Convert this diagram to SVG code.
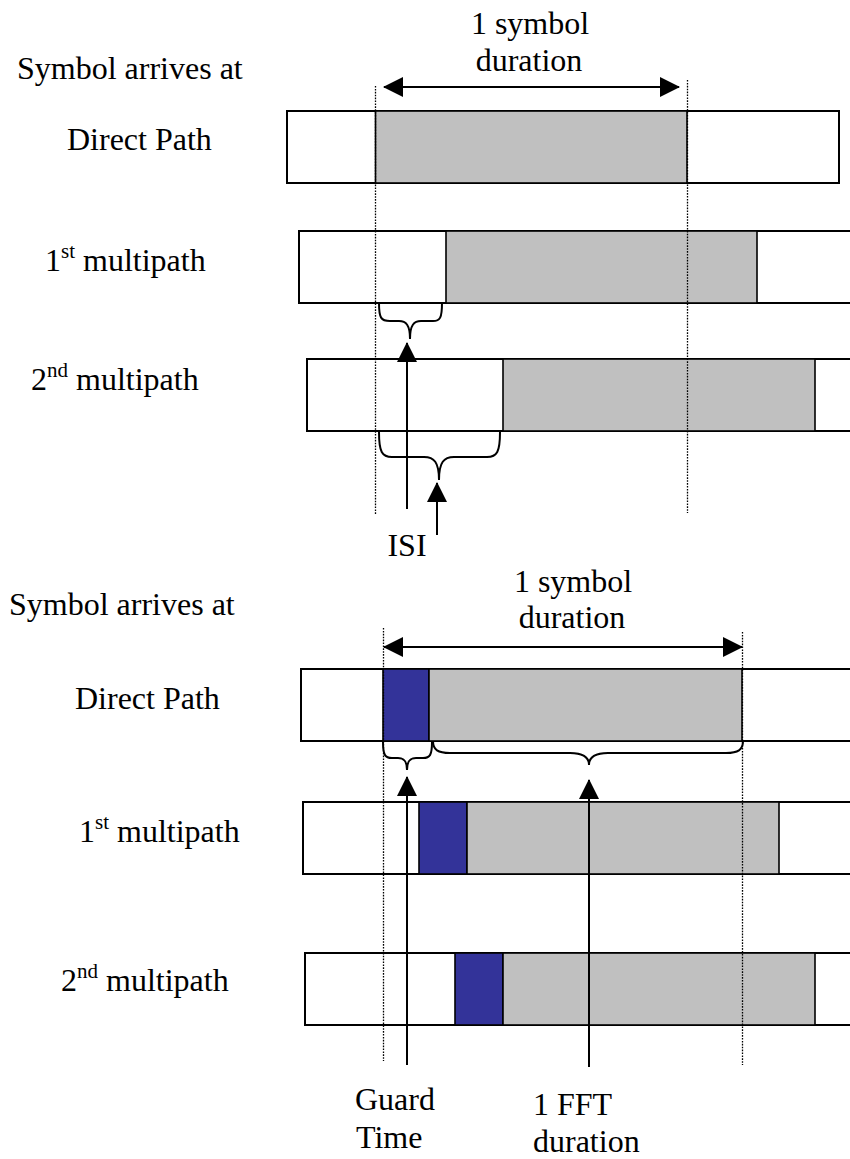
<svg xmlns="http://www.w3.org/2000/svg" width="850" height="1159" viewBox="0 0 850 1159">
  <style>
    text { font-family: "Liberation Serif", "Times New Roman", serif; font-size: 32px; fill: #000; }
    .sup { font-size: 21px; }
    .frame { fill: #fff; stroke: #000; stroke-width: 2; }
    .data { fill: #c0c0c0; stroke: #000; stroke-width: 1.6; }
    .guard { fill: #333399; stroke: #000; stroke-width: 1.6; }
    .dot { fill: none; stroke: #000; stroke-width: 1.3; stroke-dasharray: 1.6 1.3; }
    .line { fill: none; stroke: #000; stroke-width: 2; }
    .brace { fill: none; stroke: #000; stroke-width: 2; }
  </style>
  <defs>
    <marker id="head" viewBox="0 0 20 20" refX="19" refY="10" markerWidth="20" markerHeight="20" markerUnits="userSpaceOnUse" orient="auto-start-reverse">
      <path d="M0,0 L20,10 L0,20 z" fill="#000"/>
    </marker>
  </defs>

  <!-- ===== Upper panel: without guard interval ===== -->
  <g id="upper-labels">
    <text x="17" y="79">Symbol arrives at</text>
    <text x="530" y="34" text-anchor="middle">1 symbol</text>
    <text x="529" y="71" text-anchor="middle">duration</text>
    <text x="407" y="556" text-anchor="middle">ISI</text>
  </g>

  <g id="u-direct">
    <text x="67" y="150">Direct Path</text>
    <rect class="frame" x="287" y="111" width="552" height="72"/>
    <rect class="data" x="375.5" y="111" width="311.5" height="72"/>
  </g>

  <g id="u-multipath1">
    <text x="45" y="271">1<tspan class="sup" dy="-13">st</tspan><tspan dy="13"> multipath</tspan></text>
    <rect class="frame" x="299" y="231" width="560" height="72"/>
    <rect class="data" x="446" y="231" width="311" height="72"/>
  </g>

  <g id="u-multipath2">
    <text x="31" y="390">2<tspan class="sup" dy="-13">nd</tspan><tspan dy="13"> multipath</tspan></text>
    <rect class="frame" x="307" y="359" width="560" height="72"/>
    <rect class="data" x="503" y="359" width="312" height="72"/>
  </g>

  <g id="u-connectors">
    <line class="dot" x1="375.5" y1="86" x2="375.5" y2="515"/>
    <line class="dot" x1="687.5" y1="80" x2="687.5" y2="513"/>
    <line class="line" x1="384" y1="87" x2="679" y2="87" marker-start="url(#head)" marker-end="url(#head)"/>
    <path class="brace" d="M379,303 C379,318 381,321 390,321 L399,321 C406,321 410,325 410,339 C410,325 414,321 421,321 L433,321 C440,321 442,318 442,303"/>
    <path class="brace" d="M379,432 C379,452 382,457 392,457 L424,457 C434,457 439,462 439,480 C439,462 444,457 454,457 L487,457 C497,457 500,452 500,432"/>
    <line class="line" x1="407" y1="509" x2="407" y2="343" marker-end="url(#head)"/>
    <line class="line" x1="437" y1="535" x2="437" y2="483" marker-end="url(#head)"/>
  </g>

  <!-- ===== Lower panel: with guard interval ===== -->
  <g id="lower-labels">
    <text x="9" y="615">Symbol arrives at</text>
    <text x="573" y="592" text-anchor="middle">1 symbol</text>
    <text x="572" y="628" text-anchor="middle">duration</text>
    <text x="355" y="1110">Guard</text>
    <text x="356" y="1148">Time</text>
    <text x="533" y="1115">1 FFT</text>
    <text x="533" y="1152">duration</text>
  </g>

  <g id="l-direct">
    <text x="75" y="709">Direct Path</text>
    <rect class="frame" x="301" y="669" width="560" height="72"/>
    <rect class="guard" x="383" y="669" width="46" height="72"/>
    <rect class="data" x="429" y="669" width="313" height="72"/>
  </g>

  <g id="l-multipath1">
    <text x="79" y="842">1<tspan class="sup" dy="-13">st</tspan><tspan dy="13"> multipath</tspan></text>
    <rect class="frame" x="303" y="802" width="560" height="72"/>
    <rect class="guard" x="419" y="802" width="48" height="72"/>
    <rect class="data" x="467" y="802" width="312" height="72"/>
  </g>

  <g id="l-multipath2">
    <text x="61" y="991">2<tspan class="sup" dy="-13">nd</tspan><tspan dy="13"> multipath</tspan></text>
    <rect class="frame" x="305" y="953" width="560" height="72"/>
    <rect class="guard" x="455" y="953" width="48" height="72"/>
    <rect class="data" x="503" y="953" width="312" height="72"/>
  </g>

  <g id="l-connectors">
    <line class="dot" x1="383.5" y1="628" x2="383.5" y2="1061"/>
    <line class="dot" x1="742.5" y1="632" x2="742.5" y2="1065"/>
    <line class="line" x1="384" y1="647" x2="742" y2="647" marker-start="url(#head)" marker-end="url(#head)"/>
    <path class="brace" d="M383,742 C383,755 385,758 392,758 L398,758 C404,758 407,761 407,770 C407,761 410,758 416,758 L423,758 C430,758 432,755 432,742"/>
    <path class="brace" d="M433,741 C433,750 438,753 450,753 L570,753 C583,753 589,757 589,765 C589,757 595,753 608,753 L726,753 C738,753 743,750 743,741"/>
    <line class="line" x1="407" y1="1065" x2="407" y2="777" marker-end="url(#head)"/>
    <line class="line" x1="589" y1="1067" x2="589" y2="780" marker-end="url(#head)"/>
  </g>
</svg>
